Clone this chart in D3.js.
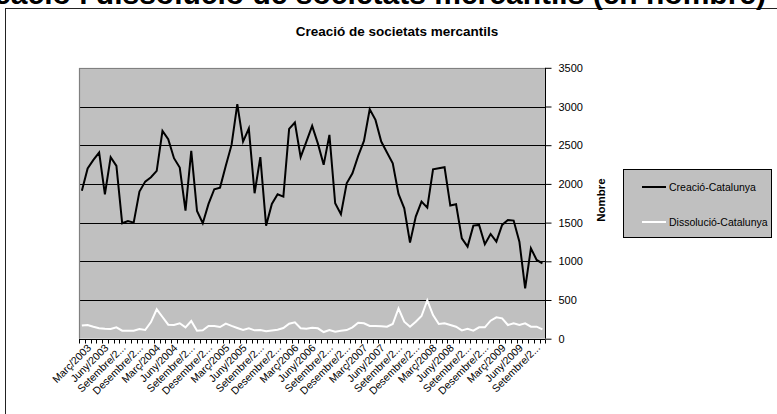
<!DOCTYPE html>
<html>
<head>
<meta charset="utf-8">
<script src="https://cdn.jsdelivr.net/npm/d3@7"></script>
<style>
  html, body { margin: 0; padding: 0; background: #fff; }
  svg { display: block; font-family: Arial, "Liberation Sans", sans-serif; }
</style>
</head>
<body>
<svg id="chart" width="777" height="414"></svg>
<script>
// Monthly series, Març 2003 – Novembre 2009
const monthNames = ["Gener","Febrer","Març","Abril","Maig","Juny","Juliol","Agost","Setembre","Octubre","Novembre","Desembre"];
const firstYear = 2003, firstMonth = 2, monthCount = 81;

const creacio = [
  1910, 2200, 2310, 2405, 1866, 2345, 2233, 1491, 1521, 1500,
  1901, 2030, 2086, 2168, 2685, 2577, 2332, 2211, 1655, 2427,
  1650, 1491, 1741, 1931, 1952, 2233, 2504, 3030, 2547, 2715,
  1879, 2345, 1461, 1741, 1866, 1836, 2711, 2793, 2345, 2547,
  2750, 2520, 2246, 2633, 1750, 1608, 2008, 2138, 2362, 2556,
  2965, 2827, 2547, 2405, 2267, 1871, 1685, 1241, 1577, 1771,
  1694, 2189, 2202, 2215, 1720, 1737, 1297, 1190, 1461, 1470,
  1220, 1353, 1254, 1470, 1534, 1526, 1254,  651, 1168, 1017,
   974
];

const dissolucio = [
  170, 178, 155, 135, 128, 125, 147, 103, 103, 103,
  125, 112, 215, 380, 280, 181, 177, 199, 147, 229,
  103, 108, 164, 164, 151, 194, 165, 138, 112, 134,
  108, 112,  95, 106, 116, 138, 194, 211, 135, 129,
  142, 134,  86, 112,  90, 103, 112, 147, 207, 199,
  164, 164, 160, 155, 190, 390, 220, 155, 220, 293,
  495, 306, 190, 199, 177, 155, 108, 129, 103, 147,
  147, 233, 276, 263, 177, 199, 177, 199, 155, 155,
  121
];

// Every third month carries a label on the category axis
const tickLabels = [
  "Març/2003","Juny/2003","Setembre/2...","Desembre/2...",
  "Març/2004","Juny/2004","Setembre/2...","Desembre/2...",
  "Març/2005","Juny/2005","Setembre/2...","Desembre/2...",
  "Març/2006","Juny/2006","Setembre/2...","Desembre/2...",
  "Març/2007","Juny/2007","Setembre/2...","Desembre/2...",
  "Març/2008","Juny/2008","Setembre/2...","Desembre/2...",
  "Març/2009","Juny/2009","Setembre/2..."
];

const yTicks = [0, 500, 1000, 1500, 2000, 2500, 3000, 3500];

const seriesNames = ["Creació-Catalunya", "Dissolució-Catalunya"];
const seriesColors = ["#000000", "#ffffff"];

const categories = [];
for (let k = 0; k < monthCount; k++) {
  const m = (firstMonth + k) % 12;
  const yr = firstYear + Math.floor((firstMonth + k) / 12);
  categories.push(monthNames[m] + "/" + yr);
}

const svg = d3.select("#chart");

// Outer chart frame
svg.append("rect")
  .attr("x", 5.5).attr("y", 8.5)
  .attr("width", 780).attr("height", 420)
  .attr("fill", "#fff").attr("stroke", "#222").attr("stroke-width", 1);

// Page heading above the frame
svg.append("text")
  .attr("x", 766).attr("y", 4)
  .attr("text-anchor", "end")
  .attr("font-size", 30).attr("font-weight", "bold")
  .text("Creació i dissolució de societats mercantils (en nombre)");

// Chart title
svg.append("text")
  .attr("x", 397).attr("y", 36)
  .attr("text-anchor", "middle")
  .attr("font-size", 13.5).attr("font-weight", "bold")
  .text("Creació de societats mercantils");

const plot = { left: 79, right: 545.3, top: 67.8, bottom: 338.7 };

const x = d3.scaleBand().domain(categories).range([plot.left, plot.right]).paddingInner(0).paddingOuter(0);
const y = d3.scaleLinear().domain([0, 3500]).range([plot.bottom, plot.top]);
const cx = d => x(d) + x.bandwidth() / 2;

// Plot area
svg.append("rect")
  .attr("x", plot.left).attr("y", plot.top)
  .attr("width", plot.right - plot.left).attr("height", plot.bottom - plot.top)
  .attr("fill", "#c0c0c0");

// Horizontal gridlines
svg.append("g")
  .selectAll("line")
  .data(yTicks.filter(v => v > 0 && v < 3500))
  .join("line")
  .attr("x1", plot.left).attr("x2", plot.right)
  .attr("y1", d => Math.round(y(d)) + 0.5).attr("y2", d => Math.round(y(d)) + 0.5)
  .attr("stroke", "#000").attr("stroke-width", 1);

// Plot area border (top & left)
svg.append("path")
  .attr("d", `M${plot.left + 0.5},${plot.bottom}V${Math.round(plot.top) + 0.5}H${plot.right}`)
  .attr("fill", "none").attr("stroke", "#808080").attr("stroke-width", 1.2);

// Series lines
const line = d3.line().x((d, i) => cx(categories[i])).y(d => y(d));
[creacio, dissolucio].forEach((vals, s) => {
  svg.append("path")
    .datum(vals)
    .attr("d", line)
    .attr("fill", "none")
    .attr("stroke", seriesColors[s])
    .attr("stroke-width", 2)
    .attr("stroke-linejoin", "miter");
});

// Value axis on the right
const yAxis = d3.axisRight(y).tickValues(yTicks).tickSize(6).tickPadding(7).tickFormat(d3.format("d"));
const gy = svg.append("g")
  .attr("transform", `translate(${Math.round(plot.right) + 0.5},0)`)
  .call(yAxis);
gy.select(".domain").attr("stroke", "#000").attr("d", `M0,${plot.top}V${plot.bottom}`);
gy.selectAll(".tick line").attr("stroke", "#000");
gy.selectAll(".tick text").attr("font-size", 11).attr("font-family", "Arial, 'Liberation Sans', sans-serif").attr("fill", "#000");

// Category axis along the bottom
const bottomY = Math.round(plot.bottom) + 0.5;
svg.append("line")
  .attr("x1", plot.left).attr("x2", plot.right)
  .attr("y1", bottomY).attr("y2", bottomY)
  .attr("stroke", "#000");
const boundaries = categories.map(c => x(c)).concat([x(categories[categories.length - 1]) + x.bandwidth()]);
svg.append("g")
  .selectAll("line")
  .data(boundaries)
  .join("line")
  .attr("x1", d => Math.round(d) + 0.5).attr("x2", d => Math.round(d) + 0.5)
  .attr("y1", bottomY).attr("y2", bottomY + 4)
  .attr("stroke", "#000");

svg.append("g")
  .selectAll("text")
  .data(tickLabels)
  .join("text")
  .attr("text-anchor", "end")
  .attr("font-size", 10.5)
  .attr("transform", (d, i) => `translate(${cx(categories[i * 3]) + 10},${bottomY + 9}) rotate(-45)`)
  .text(d => d);

// Value axis title
svg.append("text")
  .attr("transform", "translate(605,200) rotate(-90)")
  .attr("text-anchor", "middle")
  .attr("font-size", 11.5).attr("font-weight", "bold")
  .text("Nombre");

// Legend
const legend = svg.append("g");
legend.append("rect")
  .attr("x", 623.5).attr("y", 169.5)
  .attr("width", 148).attr("height", 68)
  .attr("fill", "#c0c0c0").attr("stroke", "#000").attr("stroke-width", 1);
seriesNames.forEach((name, s) => {
  const ly = [187, 222][s];
  legend.append("line")
    .attr("x1", 642).attr("x2", 666)
    .attr("y1", ly).attr("y2", ly)
    .attr("stroke", seriesColors[s]).attr("stroke-width", 2);
  legend.append("text")
    .attr("x", 669).attr("y", ly + 4)
    .attr("font-size", 10.5)
    .text(name);
});
</script>
</body>
</html>
